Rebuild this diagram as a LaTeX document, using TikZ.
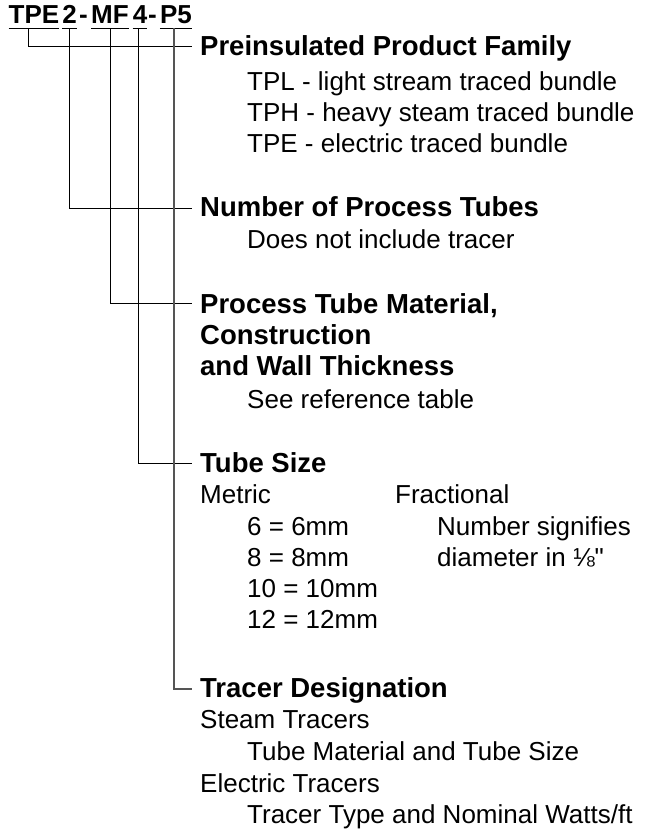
\documentclass[tikz,border=0pt]{standalone}
\usepackage{fontspec}
\setmainfont{Liberation Sans}[Ligatures=TeXOff]
\usetikzlibrary{calc}
\definecolor{lead}{HTML}{555555}

\begin{document}
\begin{tikzpicture}[x=1pt, y=-1pt,
    code/.style={font=\fontsize{26}{26}\selectfont\bfseries, inner sep=0pt, anchor=base},
    head/.style={font=\fontsize{27.5}{31}\selectfont\bfseries, inner sep=0pt, anchor=base west},
    item/.style={font=\fontsize{26}{31}\selectfont, inner sep=0pt, anchor=base west},
    tie/.style={line width=0.8pt},
    lasttie/.style={line width=1.3pt, draw=lead}
  ]
  \useasboundingbox (0,0) rectangle (662,830);

  \node[code] (tpe) at (34,23) {TPE};
  \node[code] (two) at (69.5,23) {2};
  \node[code] (dasha) at (83.5,23) {-};
  \node[code] (mf) at (110,23) {MF};
  \node[code] (four) at (140,23) {4};
  \node[code] (dashb) at (152.5,23) {-};
  \node[code] (pfive) at (176,23) {P5};
  \foreach \seg in {tpe, two, mf, four, pfive}
    \draw[tie] ([yshift=-5pt]\seg.base west) -- ([yshift=-5pt]\seg.base east);

  \node[head] (fam) at (200,55) {Preinsulated Product Family};
  \node[item] (tpl) at (247,90) {TPL - light stream traced bundle};
  \node[item] (tph) at (247,121) {TPH - heavy steam traced bundle};
  \node[item] (tpel) at (247,152) {TPE - electric traced bundle};

  \node[head] (num) at (200,216) {Number of Process Tubes};
  \node[item] (does) at (247,248) {Does not include tracer};

  \node[head] (mat) at (200,313) {Process Tube Material,};
  \node[head] (matb) at (200,344) {Construction};
  \node[head] (matc) at (200,375) {and Wall Thickness};
  \node[item] (see) at (247,408) {See reference table};

  \node[head] (size) at (200,472) {Tube Size};
  \node[item] (metric) at (200,503) {Metric};
  \node[item] (frac) at (395,503) {Fractional};
  \node[item] (six) at (247,535) {6 = 6mm};
  \node[item] (eight) at (247,566) {8 = 8mm};
  \node[item] (ten) at (247,597) {10 = 10mm};
  \node[item] (twelve) at (247,628) {12 = 12mm};
  \node[item] (signif) at (437,535) {Number signifies};
  \node[item] (diam) at (437,566) {diameter in ⅛"};

  \node[head] (tracer) at (200,697) {Tracer Designation};
  \node[item] (steam) at (200,728) {Steam Tracers};
  \node[item] (tubemat) at (247,760) {Tube Material and Tube Size};
  \node[item] (elec) at (200,792) {Electric Tracers};
  \node[item] (ttype) at (247,823) {Tracer Type and Nominal Watts/ft};

  \draw[tie] ([shift={(-6pt,-5pt)}]tpe.base) |- ([shift={(-8pt,9pt)}]fam.base west);
  \draw[tie] ([yshift=-5pt]two.base) |- ([shift={(-8pt,8pt)}]num.base west);
  \draw[tie] ([yshift=-5pt]mf.base) |- ([shift={(-8pt,10pt)}]mat.base west);
  \draw[tie] ([shift={(-2pt,-5pt)}]four.base) |- ([shift={(-8pt,9pt)}]size.base west);
  \draw[lasttie] ([shift={(-2pt,-5pt)}]pfive.base) |- ([shift={(-8pt,8pt)}]tracer.base west);
\end{tikzpicture}
\end{document}
